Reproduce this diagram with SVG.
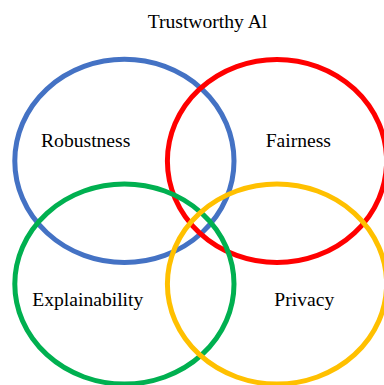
<svg xmlns="http://www.w3.org/2000/svg" width="384" height="385" viewBox="0 0 384 385">
  <style>
    .ring { fill: none; stroke-width: 5; }
    .label { font-family: "Liberation Serif", "Times New Roman", serif; font-size: 19.6px; fill: #000; text-anchor: middle; }
  </style>
  <rect width="384" height="385" fill="#ffffff"/>
  <text class="label" x="207.5" y="28.3">Trustworthy Al</text>
  <g id="robustness">
    <ellipse class="ring" cx="124.4" cy="160.9" rx="109.6" ry="101.6" stroke="#4472C4"/>
    <text class="label" x="85.7" y="146.7">Robustness</text>
  </g>
  <g id="fairness">
    <ellipse class="ring" cx="277" cy="161" rx="109.6" ry="101.6" stroke="#FF0000"/>
    <text class="label" x="298.3" y="147">Fairness</text>
  </g>
  <g id="explainability">
    <ellipse class="ring" cx="124.4" cy="284" rx="109.6" ry="100" stroke="#00B050"/>
    <text class="label" x="87.8" y="305.7">Explainability</text>
  </g>
  <g id="privacy">
    <ellipse class="ring" cx="277" cy="284" rx="109.6" ry="100" stroke="#FFC000"/>
    <text class="label" x="304.3" y="306">Privacy</text>
  </g>
  <g id="connectors"></g>
</svg>
